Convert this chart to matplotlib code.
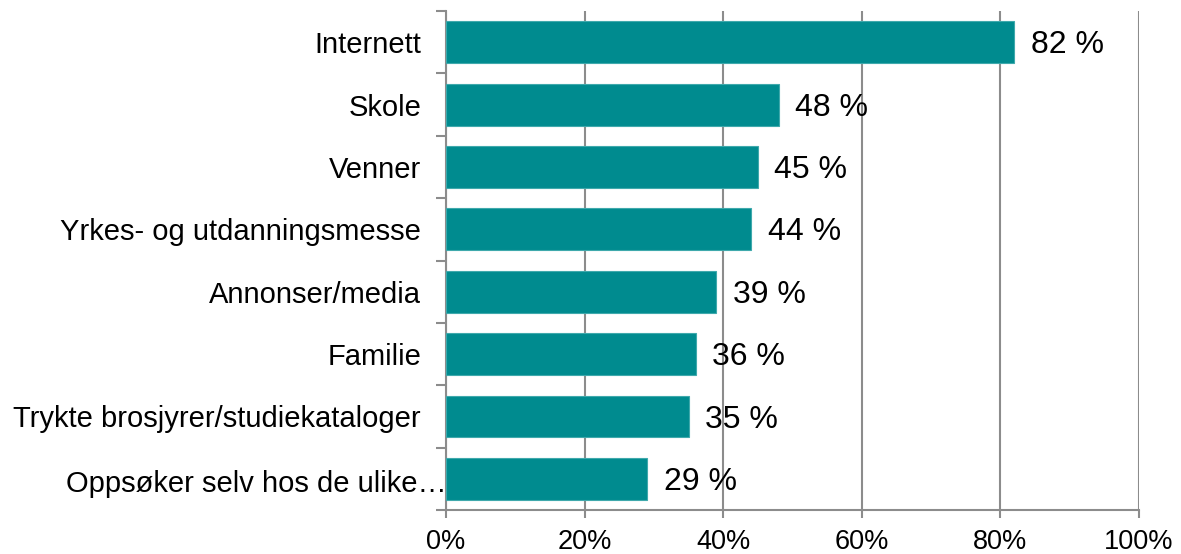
import matplotlib.pyplot as plt
import matplotlib.transforms as mtransforms
from matplotlib.ticker import FixedLocator

plt.rcParams['font.family'] = ['Liberation Sans', 'DejaVu Sans']

categories = ['Internett', 'Skole', 'Venner', 'Yrkes- og utdanningsmesse',
              'Annonser/media', 'Familie', 'Trykte brosjyrer/studiekataloger',
              'Oppsøker selv hos de ulike…']
values = [82, 48, 45, 44, 39, 36, 35, 29]
xticks = [0, 20, 40, 60, 80, 100]

teal = '#008B8F'
grey = '#8c8c8c'

fig = plt.figure(figsize=(11.81, 5.54), dpi=100)
ax = fig.add_axes([0.3777, 0.0794, 0.9644 - 0.3777, 0.980 - 0.0794])

y = list(range(len(categories)))
ax.barh(y, values, height=0.67, color=teal, edgecolor='#3fa9ac', linewidth=0.8, zorder=3)

for yi, v in zip(y, values):
    ax.text(v + 2.4, yi + 0.05, f'{v} %', va='center', ha='left', fontsize=23, zorder=4)

ax.set_xlim(0, 100)
ax.set_ylim(len(categories) - 0.5, -0.5)
ax.set_xticks(xticks)
ax.set_xticklabels([f'{t}%' for t in xticks], fontsize=19.5)
ax.tick_params(axis='x', length=6, width=1.5, color=grey, pad=8)

ax.yaxis.set_major_locator(FixedLocator([i - 0.5 for i in range(len(categories) + 1)]))
ax.yaxis.set_major_formatter(plt.NullFormatter())
ax.yaxis.set_minor_locator(FixedLocator(y))
ax.set_yticklabels(categories, minor=True, fontsize=21)
ax.tick_params(axis='y', which='major', length=7, width=1.5, color=grey)
ax.tick_params(axis='y', which='minor', length=0, pad=18)

# the truncated last label sits right up against the axis in the original
last = ax.get_yticklabels(minor=True)[-1]
last.set_transform(last.get_transform() + mtransforms.ScaledTranslation(0.26, -0.02, fig.dpi_scale_trans))

ax.grid(axis='x', color=grey, linewidth=1.5, zorder=0)
for s in ['top', 'right']:
    ax.spines[s].set_visible(False)
for s in ['left', 'bottom']:
    ax.spines[s].set_color(grey)
    ax.spines[s].set_linewidth(1.5)

fig.savefig('out.png', dpi=100)
